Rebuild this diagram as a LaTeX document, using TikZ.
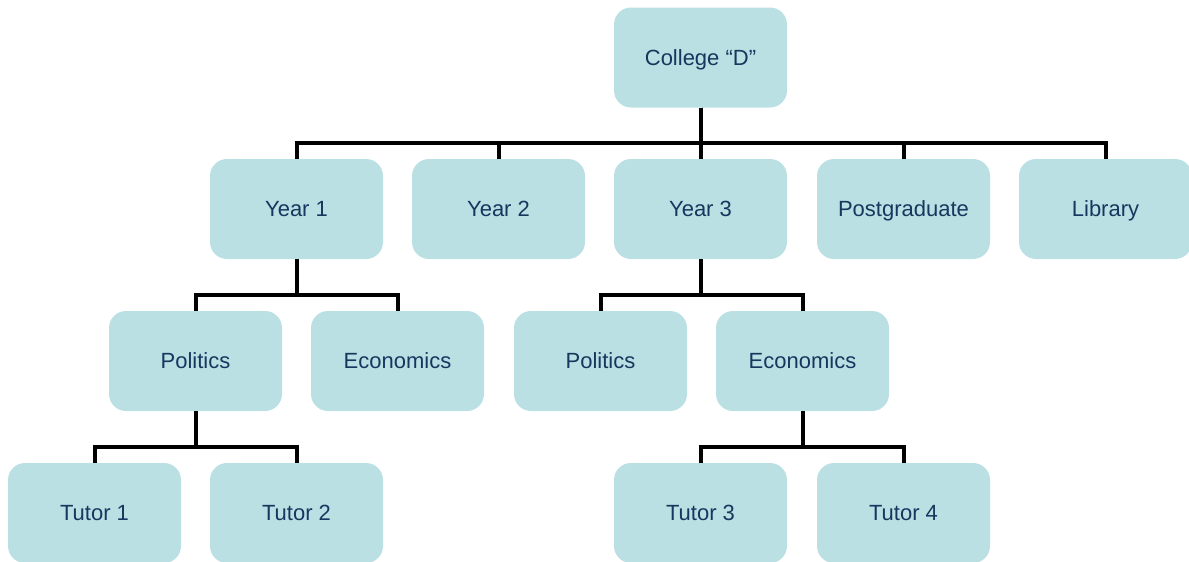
\documentclass[tikz,border=0pt]{standalone}
\usepackage{fontspec}
\setmainfont{Liberation Sans}
\definecolor{boxfill}{RGB}{186,224,227}
\definecolor{boxtext}{RGB}{23,55,94}
\begin{document}
\begin{tikzpicture}[x=1pt,y=-1pt,
  orgbox/.style={rectangle, rounded corners=17pt, fill=boxfill, text=boxtext,
    minimum width=173pt, minimum height=100pt, inner sep=0pt,
    text height=15.75pt, text depth=0pt,
    font=\fontsize{22}{26}\selectfont},
  link/.style={draw=black, line width=4pt, line join=miter}]
\useasboundingbox (0,0) rectangle (1189,562);
% top level
\node[orgbox] (college) at (700.5,57.5) {College “D”};
% years and services
\node[orgbox] (y1)   at (296.5,209) {Year 1};
\node[orgbox] (y2)   at (498.5,209) {Year 2};
\node[orgbox] (y3)   at (700.5,209) {Year 3};
\node[orgbox] (pg)   at (903.5,209) {Postgraduate};
\node[orgbox] (lib)  at (1105.5,209) {Library};
% subjects
\node[orgbox] (pol1) at (195.5,361) {Politics};
\node[orgbox] (eco1) at (397.5,361) {Economics};
\node[orgbox] (pol3) at (600.5,361) {Politics};
\node[orgbox] (eco3) at (802.5,361) {Economics};
% tutors
\node[orgbox] (t1) at (94.5,513) {Tutor 1};
\node[orgbox] (t2) at (296.5,513) {Tutor 2};
\node[orgbox] (t3) at (700.5,513) {Tutor 3};
\node[orgbox] (t4) at (903.5,513) {Tutor 4};
% connectors: down from parent, along a bus, down into child
\foreach \p/\c in {college/y1, college/y2, college/y3, college/pg, college/lib,
                   y1/pol1, y1/eco1, y3/pol3, y3/eco3,
                   pol1/t1, pol1/t2, eco3/t3, eco3/t4}
  \draw[link] (\p.south) |- ([yshift=16pt]\c.north) -- (\c.north);
\end{tikzpicture}
\end{document}
